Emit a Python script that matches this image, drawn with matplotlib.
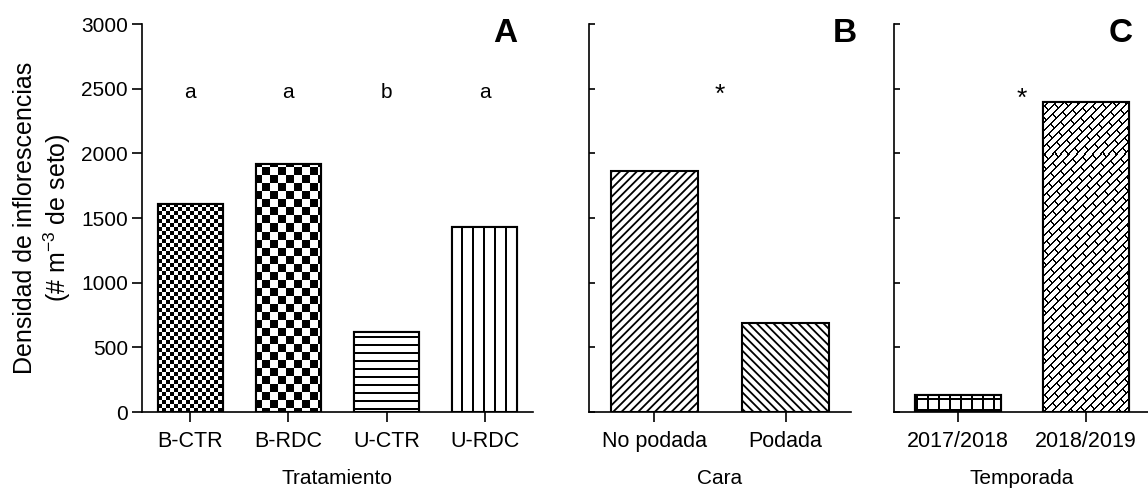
import numpy as np
import matplotlib
matplotlib.use("Agg")
import matplotlib.pyplot as plt

plt.rcParams['font.family'] = ['Liberation Sans', 'DejaVu Sans']
plt.rcParams['mathtext.fontset'] = 'custom'
plt.rcParams['mathtext.rm'] = 'Liberation Sans'
plt.rcParams['hatch.linewidth'] = 1.3

# data
trat = ["B-CTR", "B-RDC", "U-CTR", "U-RDC"]
trat_vals = [1610, 1920, 615, 1430]
trat_letters = ["a", "a", "b", "a"]

cara = ["No podada", "Podada"]
cara_vals = [1860, 685]

temp = ["2017/2018", "2018/2019"]
temp_vals = [135, 2400]

W, H = 1148, 495
fig = plt.figure(figsize=(W / 100, H / 100), dpi=100)

bottom = 1 - 412 / H
height = 388 / H
axA = fig.add_axes([142 / W, bottom, 391 / W, height])
axB = fig.add_axes([589 / W, bottom, 262 / W, height])
axC = fig.add_axes([894 / W, bottom, 256 / W, height])


def texture(ax, bar, kind, s):
    # draw a pixel pattern clipped to the bar
    pos = ax.get_position()
    w = int(round(pos.width * W))
    h = int(round(pos.height * H))
    i, j = np.mgrid[0:h, 0:w]
    if kind == "check":
        arr = ((i // s + j // s) % 2).astype(float)
    elif kind == "vline":
        arr = (j % s < 2).astype(float)
    elif kind == "hline":
        arr = (i % s < 2).astype(float)
    elif kind == "grid":
        arr = ((i % s < 2) | (j % s < 2)).astype(float)
    elif kind == "brick":
        u = i + j
        v = i - j
        off = ((u // s) % 2) * (3 * s // 2)
        arr = ((u % s < 2) | ((v + off + 1000 * s) % (3 * s) < 2)).astype(float)
    xl, yl = ax.get_xlim(), ax.get_ylim()
    im = ax.imshow(arr, cmap="gray_r", vmin=0, vmax=1, extent=(xl[0], xl[1], yl[0], yl[1]),
                   aspect="auto", interpolation="nearest", zorder=2)
    im.set_clip_path(bar)
    ax.set_xlim(xl)
    ax.set_ylim(yl)


def style(ax, inward=False):
    ax.spines['top'].set_visible(False)
    ax.spines['right'].set_visible(False)
    ax.spines['left'].set_linewidth(1.2)
    ax.spines['bottom'].set_linewidth(1.2)
    ax.set_ylim(0, 3000)
    ax.set_yticks(np.arange(0, 3001, 500))
    ax.tick_params(axis='x', direction='out', length=7, width=1.2, labelsize=15.5, pad=7)
    if inward:
        ax.tick_params(axis='y', direction='in', length=4, width=1.2, labelleft=False)
    else:
        ax.tick_params(axis='y', direction='out', length=7, width=1.2, labelsize=15, pad=3)


# Panel A
style(axA)
axA.set_xlim(-0.49, 3.49)
xa = np.arange(len(trat))
barsA = axA.bar(xa, trat_vals, width=0.66, color="white", edgecolor="black", linewidth=1.5, zorder=1)
patA = [("check", 4), ("check", 8), ("hline", 8), ("vline", 11)]
for b, (k, s) in zip(barsA, patA):
    texture(axA, b, k, s)
axA.bar(xa, trat_vals, width=0.66, fill=False, edgecolor="black", linewidth=1.5, zorder=3)
for x, t in zip(xa, trat_letters):
    axA.text(x, 2470, t, ha="center", va="center", fontsize=15)
axA.set_xticks(xa)
axA.set_xticklabels(trat)
axA.set_xlabel("Tratamiento", fontsize=15, labelpad=12)
axA.set_ylabel("Densidad de inflorescencias\n(# m$^{\\mathrm{-3}}$ de seto)", fontsize=18, labelpad=6)

# Panel B
style(axB, inward=True)
axB.set_xlim(-0.5, 1.5)
xb = np.arange(len(cara))
axB.bar(xb, cara_vals, width=0.66, color="white", edgecolor="black", linewidth=1.5,
        hatch=["////", "\\\\\\\\"], zorder=3)
axB.text(0.5, 2400, "*", ha="center", va="baseline", fontsize=19)
axB.set_xticks(xb)
axB.set_xticklabels(cara)
axB.set_xlabel("Cara", fontsize=15, labelpad=12)

# Panel C
style(axC, inward=True)
axC.set_xlim(-0.5, 1.5)
xc = np.arange(len(temp))
barsC = axC.bar(xc, temp_vals, width=0.67, color="white", edgecolor="black", linewidth=1.5, zorder=1)
texture(axC, barsC[0], "grid", 11)
texture(axC, barsC[1], "brick", 8)
axC.bar(xc, temp_vals, width=0.67, fill=False, edgecolor="black", linewidth=1.5, zorder=3)
axC.text(0.5, 2370, "*", ha="center", va="baseline", fontsize=19)
axC.set_xticks(xc)
axC.set_xticklabels(temp)
axC.set_xlabel("Temporada", fontsize=15, labelpad=12)

# panel letters
fig.text(505 / W, 1 - 33 / H, "A", fontsize=24, fontweight="bold", ha="center", va="center")
fig.text(845 / W, 1 - 33 / H, "B", fontsize=24, fontweight="bold", ha="center", va="center")
fig.text(1121 / W, 1 - 33 / H, "C", fontsize=24, fontweight="bold", ha="center", va="center")

fig.savefig("out.png", dpi=100)
